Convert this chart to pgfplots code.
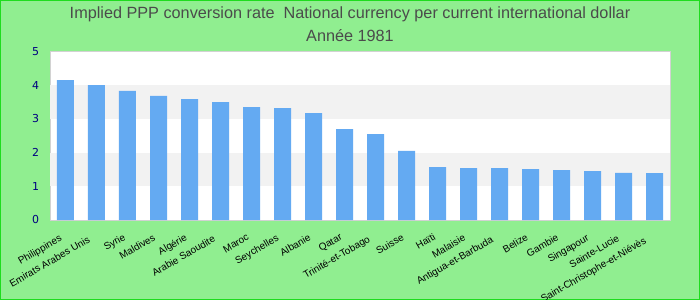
\documentclass[border=0pt]{standalone}
\usepackage{fontspec}
\setmainfont{Liberation Sans}
\newfontfamily\dejavu{DejaVu Sans}
\usepackage{pgfplots}
\pgfplotsset{compat=1.18}
\definecolor{bg}{RGB}{144,238,144}
\definecolor{frame}{RGB}{30,220,30}
\definecolor{barc}{RGB}{100,170,242}
\definecolor{band}{RGB}{242,242,242}
\definecolor{ttl}{RGB}{75,75,75}
\definecolor{ytk}{RGB}{0,0,128}
\definecolor{axl}{RGB}{210,210,210}
\newcommand\lbl[1]{\setbox0\hbox{#1}\hbox to 1.075\wd0{#1\hfil}}
\begin{document}
\begin{tikzpicture}
\fill[bg] (-50bp,-80bp) rectangle (650bp,220bp);
\draw[frame, line width=1bp] (-49.5bp,-79.5bp) rectangle (649.5bp,219.5bp);
\useasboundingbox (-50bp,-80bp) rectangle (650bp,220bp);
\node[text=ttl, anchor=base, inner sep=0pt, font=\fontsize{16.3}{18}\selectfont] at (300bp,201.7bp) {Implied PPP conversion rate\ \ National currency per current international dollar};
\node[text=ttl, anchor=base, inner sep=0pt, font=\fontsize{16.3}{18}\selectfont] at (300bp,178.3bp) {Année 1981};
\begin{axis}[
  at={(0,0)}, anchor=south west,
  scale only axis, width=620bp, height=168.5bp,
  xmin=-0.5, xmax=19.5, ymin=0, ymax=5,
  ytick={0,1,2,3,4,5},
  xtick={0,...,19},
  xticklabels={\lbl{Philippines},\lbl{Emirats Arabes Unis},\lbl{Syrie},\lbl{Maldives},\lbl{Algérie},\lbl{Arabie Saoudite},\lbl{Maroc},\lbl{Seychelles},\lbl{Albanie},\lbl{Qatar},\lbl{Trinité-et-Tobago},\lbl{Suisse},\lbl{Haïti},\lbl{Malaisie},\lbl{Antigua-et-Barbuda},\lbl{Belize},\lbl{Gambie},\lbl{Singapour},\lbl{Sainte-Lucie},\lbl{Saint-Christophe-et-Niévès}},
  major tick length=0pt,
  axis line style={draw=axl},
  axis background/.style={fill=white},
  /pgf/number format/assume math mode=true,
  yticklabel style={font=\dejavu\fontsize{11}{13}\selectfont, text=ytk, xshift=-7.5bp},
  xticklabel style={xshift=-3.5bp, yshift=-12bp, rotate=30, anchor=north east, inner sep=0pt, font=\fontsize{10}{12}\selectfont},
  clip=false,
]
\fill[band] (axis cs:-0.5,1) rectangle (axis cs:19.5,2);
\fill[band] (axis cs:-0.5,3) rectangle (axis cs:19.5,4);
\addplot[ybar, fill=barc, draw=none, bar width=17bp] coordinates {
(0,4.15) (1,4.00) (2,3.83) (3,3.68) (4,3.59) (5,3.50) (6,3.35) (7,3.32) (8,3.17) (9,2.70)
(10,2.55) (11,2.05) (12,1.57) (13,1.54) (14,1.54) (15,1.51) (16,1.48) (17,1.45) (18,1.40) (19,1.39)
};
\end{axis}
\end{tikzpicture}
\end{document}
